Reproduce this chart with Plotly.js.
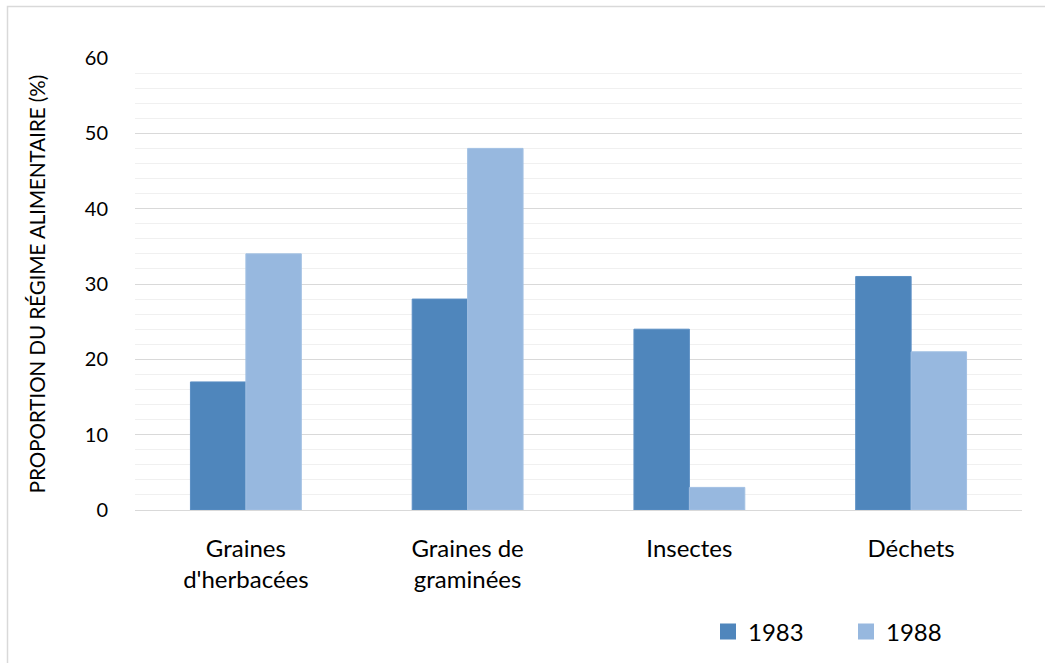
<!DOCTYPE html>
<html>
<head>
<meta charset="utf-8">
<script src="https://cdn.plot.ly/plotly-3.0.1.min.js"></script>
<style>html,body{margin:0;padding:0;background:#fff;}#chart{width:1045px;height:663px;}</style>
</head>
<body>
<div id="chart"></div>
<script>
const categories = ["Graines<br>d'herbacées", "Graines de<br>graminées", "Insectes", "Déchets"];
const series1983 = [17, 28, 24, 31];
const series1988 = [34, 48, 3, 21];
const seriesNames = ["1983", "1988"];
const seriesColors = ['#4F86BC', '#97B8DF'];
const yTickValues = [0, 10, 20, 30, 40, 50, 60];

const FONT = 'Lato, "Open Sans", sans-serif';
const W = 1045, H = 663;
const m = {l: 135, r: 23, t: 58, b: 153, autoexpand: false};
const pw = W - m.l - m.r, ph = H - m.t - m.b;
const px = v => (v - m.l) / pw;
const py = v => (H - m.b - v) / ph;

const data = [
  {type: 'bar', name: seriesNames[0], x: categories, y: series1983, showlegend: false,
   marker: {color: seriesColors[0], line: {color: '#5B8FC4', width: 1}}},
  {type: 'bar', name: seriesNames[1], x: categories, y: series1988, showlegend: false,
   marker: {color: seriesColors[1], line: {color: '#A2C0E3', width: 1}}},
  // legend entries (square swatches like the reference)
  {type: 'scatter', mode: 'markers', name: seriesNames[0], x: [categories[0]], y: [null],
   marker: {symbol: 'square', size: 16, color: seriesColors[0]}, hoverinfo: 'skip'},
  {type: 'scatter', mode: 'markers', name: seriesNames[1], x: [categories[0]], y: [null],
   marker: {symbol: 'square', size: 16, color: seriesColors[1]}, hoverinfo: 'skip'}
];

const layout = {
  width: W, height: H,
  margin: m,
  paper_bgcolor: '#fff', plot_bgcolor: '#fff',
  font: {family: FONT, color: '#000'},
  barmode: 'group', bargap: 0.5, bargroupgap: 0,
  xaxis: {
    type: 'category',
    tickfont: {size: 24, family: FONT, color: '#000'},
    ticks: 'outside', ticklen: 17, tickcolor: 'rgba(0,0,0,0)',
    showline: true, linecolor: '#d9d9d9', linewidth: 1,
    showgrid: false, fixedrange: true, automargin: false
  },
  yaxis: {
    range: [0, 60],
    tickvals: yTickValues,
    tickfont: {size: 20, family: FONT, color: '#000'},
    ticks: 'outside', ticklen: 22, tickcolor: 'rgba(0,0,0,0)',
    showgrid: true, gridcolor: '#d9d9d9', gridwidth: 1,
    minor: {dtick: 2, showgrid: true, gridcolor: '#f0f0f0', gridwidth: 1},
    zeroline: false, showline: false,
    title: {text: 'PROPORTION DU RÉGIME ALIMENTAIRE (%)', font: {size: 20.5, family: FONT, color: '#000'}, standoff: 33},
    automargin: false
  },
  legend: {
    orientation: 'h', x: px(708), y: py(632), xanchor: 'left', yanchor: 'middle',
    font: {size: 24, family: FONT, color: '#000'},
    itemwidth: 30, entrywidth: 93, entrywidthmode: 'pixels',
    tracegroupgap: 0, traceorder: 'normal',
    bgcolor: 'rgba(0,0,0,0)'
  },
  showlegend: true,
  shapes: [
    {type: 'rect', xref: 'paper', yref: 'paper',
     x0: px(7.5), x1: px(1060), y0: py(680), y1: py(6.5),
     line: {color: '#d9d9d9', width: 1.5}, fillcolor: 'rgba(0,0,0,0)', layer: 'below'}
  ]
};

Plotly.newPlot('chart', data, layout, {displayModeBar: false, staticPlot: true});
</script>
</body>
</html>
